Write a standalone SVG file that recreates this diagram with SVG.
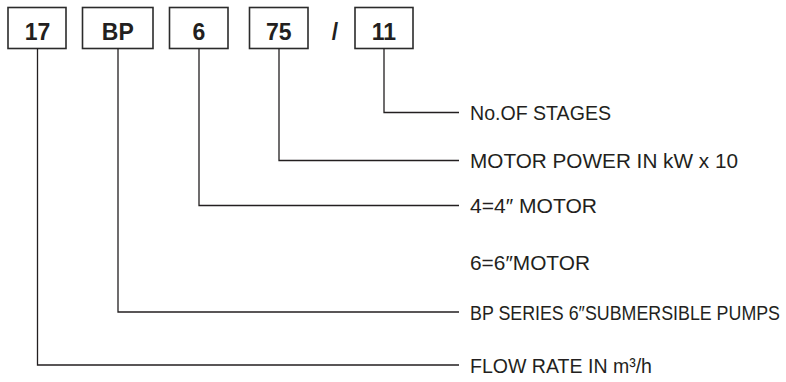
<svg xmlns="http://www.w3.org/2000/svg" width="786" height="382" viewBox="0 0 786 382">
<style>
.box{fill:#fff;stroke:#2b2b2b;stroke-width:1.6}
.code{font-family:"Liberation Sans",Arial,sans-serif;font-weight:bold;font-size:23px;fill:#231f20;text-anchor:middle}
.lbl{font-family:"Liberation Sans",Arial,sans-serif;font-size:20px;fill:#231f20}
.ln{fill:none;stroke:#231f20;stroke-width:1.3}
</style>
<rect width="786" height="382" fill="#fff"/>
<g id="node-17"><rect class="box" x="8" y="7.5" width="58" height="41"/><text class="code" x="37.5" y="39.5">17</text></g>
<g id="node-BP"><rect class="box" x="82.5" y="7.5" width="70.5" height="41"/><text class="code" x="117.8" y="39.5">BP</text></g>
<g id="node-6"><rect class="box" x="169.5" y="7.5" width="58.5" height="41"/><text class="code" x="198.8" y="39.5">6</text></g>
<g id="node-75"><rect class="box" x="249.5" y="7.5" width="58.5" height="41"/><text class="code" x="278.8" y="39.5">75</text></g>
<g id="slash"><text class="code" x="335" y="39.5">/</text></g>
<g id="node-11"><rect class="box" x="355" y="7.5" width="58" height="41"/><text class="code" x="384" y="39.5">11</text></g>
<g id="connectors">
<polyline class="ln" points="384,48.5 384,112.5 459,112.5"/>
<polyline class="ln" points="279,48.5 279,160.5 459,160.5"/>
<polyline class="ln" points="199,48.5 199,205.5 459,205.5"/>
<polyline class="ln" points="118,48.5 118,312 459,312"/>
<polyline class="ln" points="37.5,48.5 37.5,365 459,365"/>
</g>
<g id="labels">
<text class="lbl" x="470" y="120" textLength="141" lengthAdjust="spacingAndGlyphs">No.OF STAGES</text>
<text class="lbl" x="470" y="168" textLength="268" lengthAdjust="spacingAndGlyphs">MOTOR POWER IN kW x 10</text>
<text class="lbl" x="470" y="213" textLength="127" lengthAdjust="spacingAndGlyphs">4=4″ MOTOR</text>
<text class="lbl" x="470" y="270" textLength="120" lengthAdjust="spacingAndGlyphs">6=6″MOTOR</text>
<text class="lbl" x="470" y="319.5" font-size="18" textLength="310" lengthAdjust="spacingAndGlyphs">BP SERIES 6″SUBMERSIBLE PUMPS</text>
<text class="lbl" x="470" y="372.5" textLength="182" lengthAdjust="spacingAndGlyphs">FLOW RATE IN m³/h</text>
</g>
</svg>
